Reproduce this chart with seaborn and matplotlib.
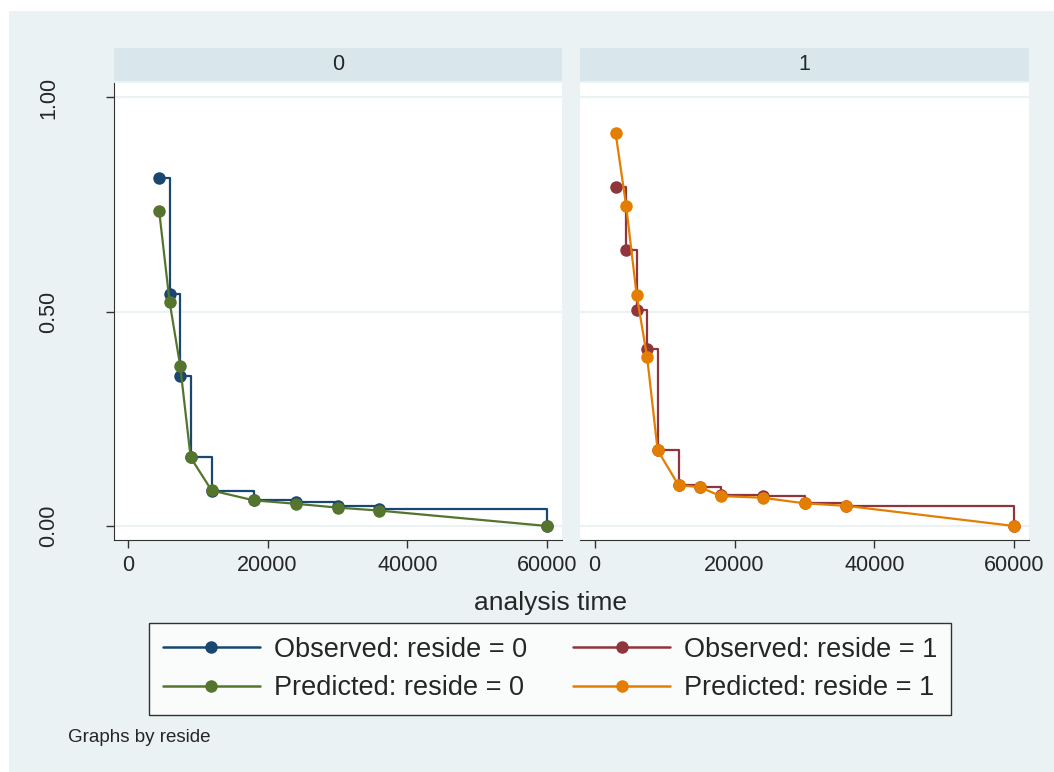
import numpy as np
import pandas as pd
import seaborn as sns
import matplotlib.pyplot as plt
from matplotlib.patches import Rectangle

# survival estimates
t_res0 = [4500, 6000, 7500, 9000, 12000, 18000, 24000, 30000, 36000, 60000]
obs_res0 = [0.811, 0.541, 0.351, 0.160, 0.082, 0.060, 0.056, 0.046, 0.039, 0.0]
pred_res0 = [0.735, 0.522, 0.374, 0.160, 0.083, 0.060, 0.052, 0.043, 0.036, 0.0]

t_res1 = [3000, 4500, 6000, 7500, 9000, 12000, 15000, 18000, 24000, 30000, 36000, 60000]
obs_res1 = [0.791, 0.643, 0.505, 0.413, 0.177, 0.095, 0.092, 0.072, 0.069, 0.053, 0.047, 0.0]
pred_res1 = [0.916, 0.747, 0.539, 0.394, 0.177, 0.095, 0.091, 0.070, 0.066, 0.053, 0.047, 0.0]

x_ticks = [0, 20000, 40000, 60000]
y_ticks = [0.0, 0.5, 1.0]
y_ticklabels = ['0.00', '0.50', '1.00']

navy = '#1a476f'
maroon = '#90353b'
green = '#55752f'
orange = '#e37e00'
bg = '#eaf2f3'
strip_col = '#d9e6eb'

sns.set_style('white')
plt.rcParams['font.family'] = ['Liberation Sans', 'DejaVu Sans']

W, H = 1054, 772
fig = plt.figure(figsize=(W / 100, H / 100), dpi=100)
fig.patch.set_facecolor('white')
fig.patches.append(Rectangle((9 / W, 0), 1, 1 - 11 / H, transform=fig.transFigure,
                             facecolor=bg, edgecolor='none', zorder=-10))


def px(x0, y0, x1, y1):
    return [x0 / W, 1 - y1 / H, (x1 - x0) / W, (y1 - y0) / H]


panels = [
    ('0', px(114, 82.5, 562, 540), px(114, 48, 562, 81.3), t_res0, obs_res0, pred_res0, navy, green, -1960),
    ('1', px(580, 82.5, 1029, 540), px(580, 48, 1029, 81.3), t_res1, obs_res1, pred_res1, maroon, orange, -2100),
]

for i, (lab, rect, srect, t, obs, pred, c_obs, c_pred, xmin) in enumerate(panels):
    ax = fig.add_axes(rect)
    ax.set_facecolor('white')
    df = pd.DataFrame({'t': t, 'obs': obs, 'pred': pred})
    sns.lineplot(data=df, x='t', y='obs', ax=ax, color=c_obs, drawstyle='steps-post',
                 marker='o', markersize=9, markeredgewidth=0, linewidth=1.6, zorder=3)
    sns.lineplot(data=df, x='t', y='pred', ax=ax, color=c_pred,
                 marker='o', markersize=9, markeredgewidth=0, linewidth=1.6, zorder=4)
    ax.set_xlim(xmin, 62100)
    ax.set_ylim(-0.0326, 1.035)
    for yv in y_ticks:
        ax.axhline(yv, color=bg, linewidth=1.5, zorder=1)
    ax.set_xticks(x_ticks)
    ax.set_xticklabels([str(v) for v in x_ticks], fontsize=15.5)
    ax.set_xlabel('')
    ax.set_ylabel('')
    ax.tick_params(axis='x', length=6, width=1, color='#333333', pad=5, direction='out', bottom=True)
    for s in ['top', 'right']:
        ax.spines[s].set_visible(False)
    ax.spines['bottom'].set_color('#333333')
    if i == 0:
        ax.set_yticks(y_ticks)
        ax.set_yticklabels(y_ticklabels, fontsize=15.5, rotation=90, va='center')
        ax.tick_params(axis='y', length=6, width=1, color='#333333', pad=41, direction='out', left=True)
        for tl in ax.get_yticklabels():
            tl.set_ha('center')
        ax.spines['left'].set_color('#333333')
    else:
        ax.set_yticks([])
        ax.spines['left'].set_visible(False)
    sax = fig.add_axes(srect)
    sax.set_facecolor(strip_col)
    sax.set_xticks([])
    sax.set_yticks([])
    for s in sax.spines.values():
        s.set_visible(False)
    sax.text(0.5, 0.5, lab, ha='center', va='center', fontsize=15.5, transform=sax.transAxes)

fig.text(551 / W, 1 - 603 / H, 'analysis time', ha='center', va='center', fontsize=19)

# legend
leg_colors = [navy, green, maroon, orange]
leg_items = [plt.Line2D([], [], color=c, marker='o', markersize=9, markeredgewidth=0, linewidth=1.8)
             for c in leg_colors]
leg_labels = ['Observed: reside = 0', 'Predicted: reside = 0',
              'Observed: reside = 1', 'Predicted: reside = 1']
leg = fig.legend(leg_items, leg_labels, loc='center', bbox_to_anchor=(550 / W, 1 - 669 / H),
                 ncol=2, fontsize=19.5, frameon=True, fancybox=False, handlelength=3.6,
                 handletextpad=0.5, columnspacing=1.7, labelspacing=0.45, borderpad=0.5)
leg.get_frame().set_edgecolor('black')
leg.get_frame().set_linewidth(1.0)
leg.get_frame().set_facecolor('white')

fig.text(68 / W, 1 - 737 / H, 'Graphs by reside', ha='left', va='center', fontsize=13.5)

fig.savefig('out.png', dpi=100, facecolor=fig.get_facecolor())
